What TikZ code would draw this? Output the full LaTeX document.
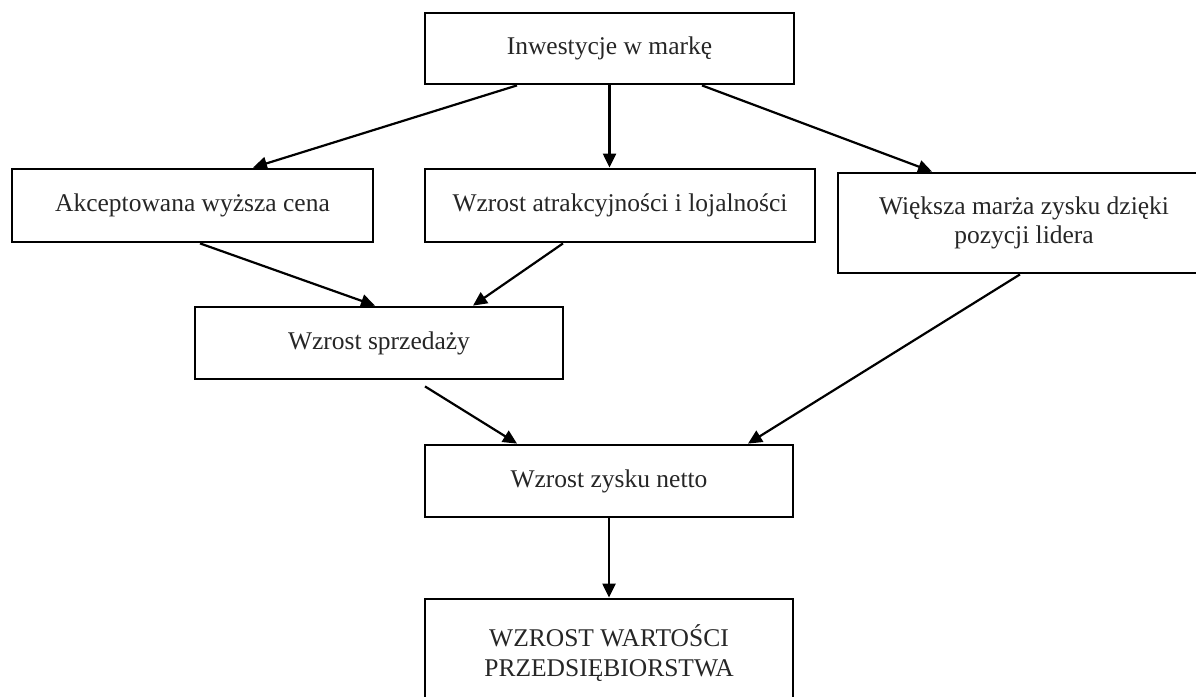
\documentclass[tikz,border=0pt]{standalone}
\usepackage{fontspec}
\setmainfont{Liberation Serif}
\usetikzlibrary{arrows.meta}
\begin{document}
\begin{tikzpicture}[x=1pt,y=-1pt,
  box/.style={draw=black,line width=2.8pt,rectangle,inner sep=0pt,align=center,
    font=\fontsize{25.5}{29.5}\selectfont,text=black!85},
  arr/.style={line width=2.2pt,-{Triangle[length=14pt,width=13pt]}}]
\useasboundingbox (0,0) rectangle (1196,696);
\clip (0,0) rectangle (1196,696);
\fill[white] (0,0) rectangle (1196,696);

% boxes
\node[box,minimum width=369pt,minimum height=71pt] (inw) at (609.5,48.5) {Inwestycje w markę};
\node[box,minimum width=361pt,minimum height=73pt] (akc) at (192.5,205.5) {Akceptowana wyższa cena};
\node[box,minimum width=390pt,minimum height=73pt] (atr) at (620,205.5) {Wzrost atrakcyjności i lojalności};
\node[box,minimum width=372pt,minimum height=100pt] (wie) at (1024,223) {Większa marża zysku dzięki\\pozycji lidera};
\node[box,minimum width=368pt,minimum height=72pt] (spr) at (379,343) {Wzrost sprzedaży};
\node[box,minimum width=368pt,minimum height=72pt] (zys) at (609,481) {Wzrost zysku netto};
\node[box,minimum width=368pt,minimum height=108pt] (war) at (609,653) {WZROST WARTOŚCI\\PRZEDSIĘBIORSTWA};

% connectors
\draw[arr] ([xshift=-92.5pt]inw.south) -- ([xshift=60.5pt]akc.north);
\draw[arr] ([xshift=0pt]inw.south) -- ([xshift=-10.5pt]atr.north);
\draw[arr] ([xshift=92.5pt]inw.south) -- ([xshift=-92pt]wie.north);
\draw[arr] ([xshift=7.5pt]akc.south) -- ([xshift=-4pt]spr.north);
\draw[arr] ([xshift=-57pt]atr.south) -- ([xshift=94pt]spr.north);
\draw[arr] ([xshift=-4pt]wie.south) -- ([xshift=139pt]zys.north);
\draw[arr] ([xshift=46pt,yshift=-6pt]spr.south) -- ([xshift=-92pt]zys.north);
\draw[arr] (zys.south) -- (war.north);
\end{tikzpicture}
\end{document}
